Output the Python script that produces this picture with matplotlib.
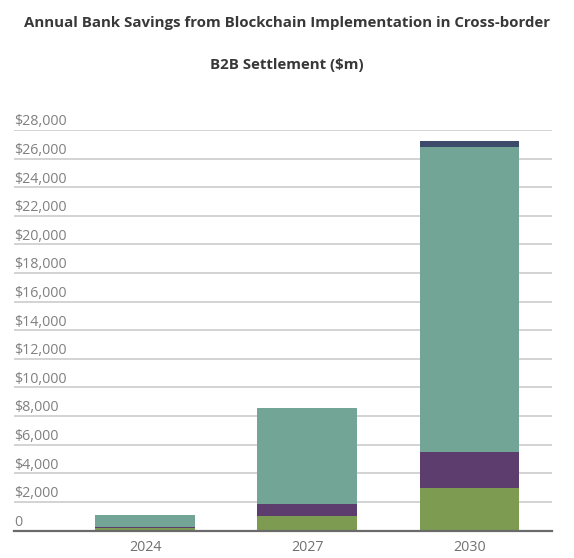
import matplotlib.pyplot as plt
from matplotlib.transforms import offset_copy

years = ["2024", "2027", "2030"]
green = [180, 1020, 2980]
purple = [70, 800, 2520]
teal = [820, 6710, 21280]
navy = [0, 0, 440]
yticks = list(range(0, 28001, 2000))
ylabels = ["0"] + ["${:,}".format(v) for v in yticks[1:]]

plt.rcParams["font.family"] = ["Open Sans", "DejaVu Sans"]

fig = plt.figure(figsize=(5.74, 5.58), dpi=100)
W, H = 574, 558
ax = fig.add_axes([14 / W, 27.5 / H, (552 - 14) / W, (530.5 - 130) / H])

x = list(range(len(years)))
bw = 0.614
bottom = [0] * 3
for vals, col in [(green, "#7d9c52"), (purple, "#5c3d6e"), (teal, "#72a595"), (navy, "#3e4a6a")]:
    ax.bar(x, vals, bw, bottom=bottom, color=col, zorder=3)
    bottom = [b + v for b, v in zip(bottom, vals)]

ax.set_xlim(-0.808, 2.509)
ax.set_ylim(0, 28000)
ax.set_yticks(yticks)
ax.set_yticklabels(ylabels)
ax.set_xticks(x)
ax.set_xticklabels(years)
ax.grid(axis="y", color="#c8c8c8", linewidth=1.1, zorder=0)
ax.tick_params(axis="y", length=0, pad=0, labelsize=10.3, labelcolor="#808080")
ax.tick_params(axis="x", length=0, pad=7, labelsize=10.3, labelcolor="#707070")
for lab in ax.get_yticklabels():
    lab.set_horizontalalignment("left")
    lab.set_verticalalignment("bottom")
    lab.set_transform(offset_copy(lab.get_transform(), fig=fig, x=0, y=0.5, units="points"))
for s in ["left", "right", "top"]:
    ax.spines[s].set_visible(False)
ax.spines["bottom"].set_color("#6a6a6a")
ax.spines["bottom"].set_linewidth(1.6)
ax.spines["bottom"].set_zorder(4)

fig.text(0.5, 1 - 23.5 / H, "Annual Bank Savings from Blockchain Implementation in Cross-border",
         ha="center", va="center", fontsize=10.85, fontweight="bold", color="#383838")
fig.text(0.5, 1 - 65.5 / H, "B2B Settlement ($m)",
         ha="center", va="center", fontsize=10.85, fontweight="bold", color="#383838")

fig.savefig("out.png", dpi=100)
